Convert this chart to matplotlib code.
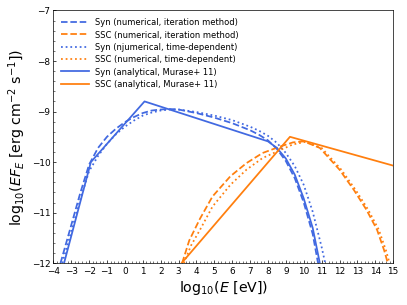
import numpy as np
import matplotlib
matplotlib.use("Agg")
import matplotlib.pyplot as plt
from matplotlib.ticker import MultipleLocator

BLUE = "royalblue"
ORANGE = "#ff7f0e"

# log10(E [eV]) / log10(EF_E)
syn_iter_x = [-3.6, -3.0, -2.5, -2.0, -1.5, -1.0, -0.5, 0.0, 0.5, 1.0, 1.5, 2.0, 2.5, 3.0, 4.0,
              5.0, 6.0, 7.0, 7.5, 8.0, 8.5, 9.0, 9.5, 10.0, 10.5, 10.8]
syn_iter_y = [-12.0, -11.25, -10.62, -10.05, -9.72, -9.5, -9.34, -9.21, -9.11, -9.03, -8.98, -8.96,
              -8.95, -8.96, -9.03, -9.12, -9.23, -9.37, -9.46, -9.57, -9.74, -9.98, -10.32, -10.8,
              -11.42, -12.0]

ssc_iter_x = [3.2, 3.6, 4.2, 4.9, 5.9, 6.8, 7.7, 8.7, 9.4, 10.0, 10.9, 12.0, 12.8, 13.5, 14.1,
              14.5, 14.7]
ssc_iter_y = [-12.0, -11.55, -11.12, -10.68, -10.28, -10.02, -9.82, -9.69, -9.61, -9.59, -9.72,
              -10.15, -10.55, -10.94, -11.34, -11.75, -12.0]

syn_td_x = [-3.5, -3.0, -2.5, -2.0, -1.5, -1.0, -0.5, 0.0, 0.5, 1.0, 1.5, 2.0, 2.5, 3.0, 4.0,
            5.0, 6.0, 7.0, 7.5, 8.0, 8.5, 9.0, 9.5, 10.0, 10.5, 11.0, 11.2]
syn_td_y = [-12.0, -11.38, -10.75, -10.18, -9.88, -9.64, -9.45, -9.3, -9.18, -9.08, -9.02, -8.98,
            -8.96, -8.96, -9.01, -9.08, -9.17, -9.3, -9.38, -9.48, -9.62, -9.82, -10.08, -10.45,
            -10.98, -11.68, -12.0]

ssc_td_x = [3.3, 3.7, 4.2, 4.9, 5.9, 6.8, 7.7, 8.7, 9.4, 10.1, 11.0, 12.1, 12.9, 13.6, 14.2,
            14.6, 14.8]
ssc_td_y = [-12.0, -11.65, -11.34, -10.88, -10.45, -10.15, -9.92, -9.76, -9.65, -9.6, -9.72,
            -10.15, -10.55, -10.94, -11.34, -11.75, -12.0]

syn_an_x = [-3.4, -1.9, 1.1, 8.0, 8.5, 9.0, 9.5, 10.0, 10.5, 10.9]
syn_an_y = [-12.0, -10.0, -8.8, -9.59, -9.72, -9.93, -10.25, -10.72, -11.3, -12.0]

ssc_an_x = [3.17, 9.23, 15.0]
ssc_an_y = [-12.0, -9.5, -10.07]

fig, ax = plt.subplots(figsize=(6.4, 4.8), dpi=407 / 6.4)
fig.subplots_adjust(left=0.131, right=0.966, top=0.965, bottom=0.137)
ax.plot(syn_iter_x, syn_iter_y, "--", color=BLUE, lw=2, label="Syn (numerical, iteration method)")
ax.plot(ssc_iter_x, ssc_iter_y, "--", color=ORANGE, lw=2, label="SSC (numerical, iteration method)")
ax.plot(syn_td_x, syn_td_y, ":", color=BLUE, lw=2, label="Syn (njumerical, time-dependent)")
ax.plot(ssc_td_x, ssc_td_y, ":", color=ORANGE, lw=2, label="SSC (numerical, time-dependent)")
ax.plot(syn_an_x, syn_an_y, "-", color=BLUE, lw=2, label="Syn (analytical, Murase+ 11)")
ax.plot(ssc_an_x, ssc_an_y, "-", color=ORANGE, lw=2, label="SSC (analytical, Murase+ 11)")

ax.set_xlim(-4, 15)
ax.set_ylim(-12, -7)
ax.xaxis.set_major_locator(MultipleLocator(1))
ax.xaxis.set_minor_locator(MultipleLocator(0.2))
ax.yaxis.set_major_locator(MultipleLocator(1))
ax.yaxis.set_minor_locator(MultipleLocator(0.2))
ax.tick_params(which="both", direction="in", labelsize=10)
ax.set_xlabel(r"log$_{10}$($E$ [eV])", fontsize=16)
ax.set_ylabel(r"log$_{10}$($EF_E$ [erg cm$^{-2}$ s$^{-1}$])", fontsize=16)
ax.legend(loc="upper left", frameon=False, fontsize=9.5, handlelength=3.3, labelspacing=0.4)
plt.savefig("out.png")
